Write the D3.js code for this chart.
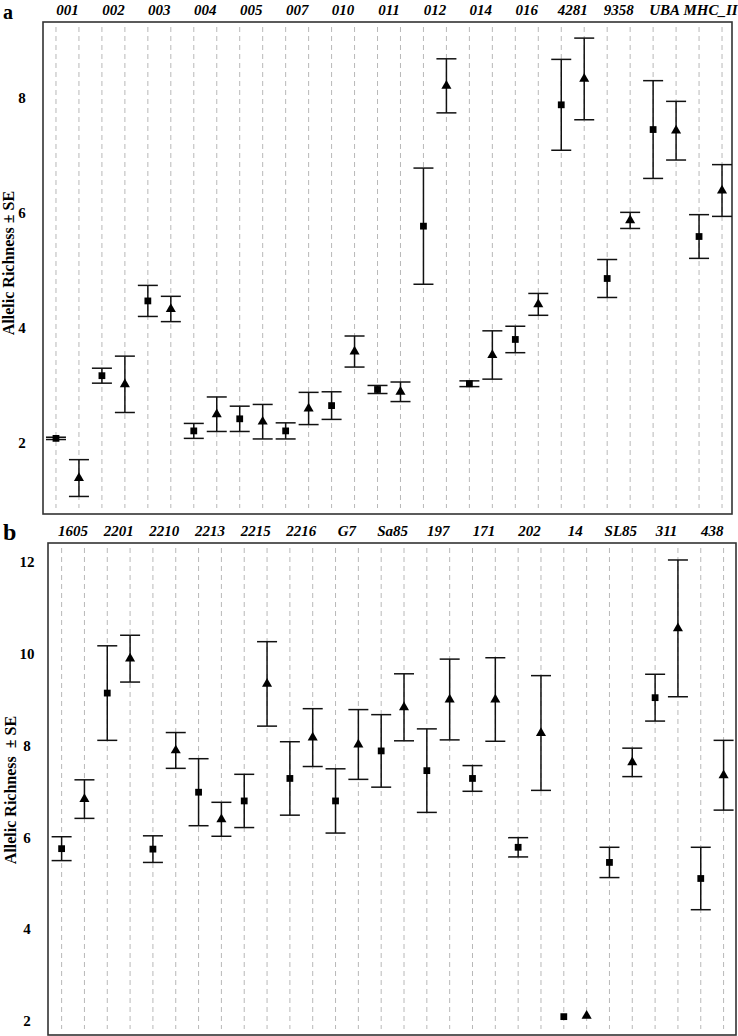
<!DOCTYPE html>
<html>
<head>
<meta charset="utf-8">
<script src="https://cdn.jsdelivr.net/npm/d3@7"></script>
<style>
  body { margin: 0; background: #fff; }
  svg { display: block; }
  text { font-family: "Liberation Serif", "Times New Roman", serif; font-weight: bold; fill: #000; }
  .locus { font-style: italic; font-size: 15px; }
  .grid { stroke: #b8b8b8; stroke-width: 1; stroke-dasharray: 5,4; }
  .frame { fill: none; stroke: #333; stroke-width: 1.6; }
  .err { stroke: #111; stroke-width: 1.5; }
</style>
</head>
<body>
<svg id="chart" width="738" height="1036"></svg>
<script>
// panel a
const lociA = ["001", "002", "003", "004", "005", "007", "010", "011", "012", "014", "016", "4281", "9358", "UBA", "MHC_II"];
const sqMeanA = [2.08, 3.17, 4.47, 2.21, 2.42, 2.21, 2.65, 2.93, 5.77, 3.03, 3.80, 7.88, 4.86, 7.45, 5.59];
const sqSeA   = [0.02, 0.13, 0.27, 0.13, 0.22, 0.14, 0.24, 0.07, 1.01, 0.05, 0.23, 0.79, 0.33, 0.85, 0.38];
const trMeanA = [1.39, 3.02, 4.33, 2.50, 2.37, 2.60, 3.59, 2.89, 8.21, 3.53, 4.41, 8.33, 5.87, 7.43, 6.39];
const trSeA   = [0.32, 0.49, 0.22, 0.30, 0.30, 0.28, 0.27, 0.17, 0.47, 0.42, 0.19, 0.71, 0.14, 0.51, 0.45];
const ticksA = [2, 4, 6, 8];

// panel b
const lociB = ["1605", "2201", "2210", "2213", "2215", "2216", "G7", "Sa85", "197", "171", "202", "14", "SL85", "311", "438"];
const sqMeanB = [5.75, 9.14, 5.74, 6.98, 6.79, 7.28, 6.79, 7.88, 7.45, 7.28, 5.78, 2.09, 5.45, 9.04, 5.10];
const sqSeB   = [0.26, 1.03, 0.29, 0.73, 0.58, 0.80, 0.70, 0.79, 0.91, 0.28, 0.21, 0, 0.33, 0.51, 0.68];
const trMeanB = [6.83, 9.89, 7.89, 6.39, 9.34, 8.17, 8.02, 8.83, 9.00, 9.00, 8.27, 2.11, 7.63, 10.55, 7.35];
const trSeB   = [0.42, 0.51, 0.39, 0.37, 0.92, 0.63, 0.76, 0.73, 0.88, 0.91, 1.25, 0, 0.31, 1.49, 0.76];
const ticksB = [2, 4, 6, 8, 10, 12];

const svg = d3.select("#chart");

function drawPanel(opt) {
    const g = svg.append("g");

    const x = d3.scaleBand().domain(opt.loci).range(opt.xRange);
    const y = d3.scaleLinear().domain(opt.yDomain).range([opt.bottom, opt.top]);
    const off = x.bandwidth() / 4;

    // rows: one per point
    const rows = [];
    opt.loci.forEach((l, i) => {
        rows.push({ locus: l, shape: "sq", mean: opt.sqMean[i], se: opt.sqSe[i], cx: x(l) + x.bandwidth() / 2 - off });
        rows.push({ locus: l, shape: "tr", mean: opt.trMean[i], se: opt.trSe[i], cx: x(l) + x.bandwidth() / 2 + off });
    });

    // dashed verticals
    g.selectAll(".grid").data(rows).enter().append("line")
        .attr("class", "grid")
        .attr("x1", d => d.cx).attr("x2", d => d.cx)
        .attr("y1", opt.top + 5).attr("y2", opt.bottom - 6);

    // frame
    g.append("rect").attr("class", "frame")
        .attr("x", opt.left).attr("y", opt.top)
        .attr("width", opt.right - opt.left).attr("height", opt.bottom - opt.top);

    // locus labels
    g.selectAll(".locus").data(opt.loci).enter().append("text")
        .attr("class", "locus")
        .attr("x", d => x(d) + x.bandwidth() / 2)
        .attr("y", opt.top - 7)
        .attr("text-anchor", "middle")
        .text(d => d);

    // y axis labels
    const ax = g.append("g").attr("transform", `translate(${opt.tickX},0)`)
        .call(d3.axisLeft(y).tickValues(opt.ticks).tickSize(0).tickPadding(0));
    ax.select(".domain").remove();
    ax.selectAll("text")
        .attr("text-anchor", "middle")
        .attr("x", 0)
        .style("font-family", "'Liberation Serif', serif")
        .style("font-weight", "bold")
        .style("font-size", "15px");

    // axis title
    g.append("text")
        .attr("transform", `translate(${opt.titleX},${opt.titleY}) rotate(-90)`)
        .attr("text-anchor", "middle")
        .style("font-size", "16px")
        .text(opt.title);

    // panel letter
    g.append("text")
        .attr("x", opt.letterX).attr("y", opt.letterY)
        .style("font-size", opt.letterSize + "px")
        .text(opt.letter);

    // error bars
    const withErr = rows.filter(d => d.se > 0);
    g.selectAll(".stem").data(withErr).enter().append("line")
        .attr("class", "err")
        .attr("x1", d => d.cx).attr("x2", d => d.cx)
        .attr("y1", d => y(d.mean + d.se)).attr("y2", d => y(d.mean - d.se));
    g.selectAll(".capHi").data(withErr).enter().append("line")
        .attr("class", "err")
        .attr("x1", d => d.cx - 10).attr("x2", d => d.cx + 10)
        .attr("y1", d => y(d.mean + d.se)).attr("y2", d => y(d.mean + d.se));
    g.selectAll(".capLo").data(withErr).enter().append("line")
        .attr("class", "err")
        .attr("x1", d => d.cx - 10).attr("x2", d => d.cx + 10)
        .attr("y1", d => y(d.mean - d.se)).attr("y2", d => y(d.mean - d.se));

    // markers
    const sym = { sq: d3.symbol(d3.symbolSquare, 46), tr: d3.symbol(d3.symbolTriangle, 44) };
    g.selectAll(".pt").data(rows).enter().append("path")
        .attr("transform", d => `translate(${d.cx},${y(d.mean)})`)
        .attr("d", d => sym[d.shape]())
        .attr("fill", "#000");
}

drawPanel({
    loci: lociA, sqMean: sqMeanA, sqSe: sqSeA, trMean: trMeanA, trSe: trSeA, ticks: ticksA,
    left: 43, right: 732, top: 22, bottom: 514,
    xRange: [44.5, 733.5], yDomain: [0.765, 9.32],
    tickX: 22, titleX: 14, titleY: 263, title: "Allelic Richness \u00b1 SE",
    letter: "a", letterX: 3, letterY: 19, letterSize: 20
});

drawPanel({
    loci: lociB, sqMean: sqMeanB, sqSe: sqSeB, trMean: trMeanB, trSe: trSeB, ticks: ticksB,
    left: 48, right: 736, top: 543, bottom: 1035,
    xRange: [50.2, 735], yDomain: [1.69, 12.41],
    tickX: 27, titleX: 16, titleY: 790, title: "Allelic Richness \u00a0\u00b1 SE",
    letter: "b", letterX: 3, letterY: 540, letterSize: 24
});
</script>
</body>
</html>
